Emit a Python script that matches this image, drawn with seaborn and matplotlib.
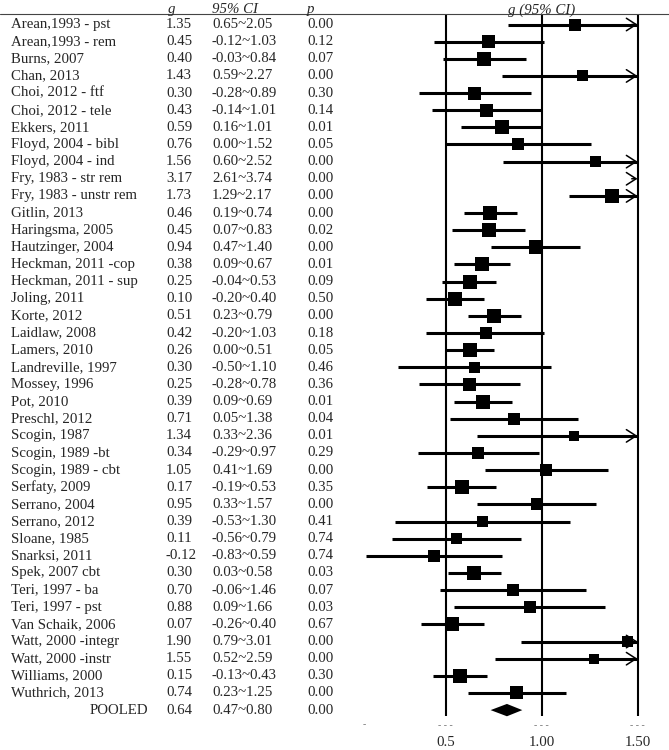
import numpy as np
import pandas as pd
import matplotlib
matplotlib.use("Agg")
import matplotlib.pyplot as plt
import matplotlib.transforms as mtransforms
import seaborn as sns

# datos
studies = [
    "Arean,1993 - pst", "Arean,1993 - rem", "Burns, 2007", "Chan, 2013",
    "Choi, 2012 - ftf", "Choi, 2012 - tele", "Ekkers, 2011", "Floyd, 2004 - bibl",
    "Floyd, 2004 - ind", "Fry, 1983 - str rem", "Fry, 1983 - unstr rem", "Gitlin, 2013",
    "Haringsma, 2005", "Hautzinger, 2004", "Heckman, 2011 -cop", "Heckman, 2011 - sup",
    "Joling, 2011", "Korte, 2012", "Laidlaw, 2008", "Lamers, 2010",
    "Landreville, 1997", "Mossey, 1996", "Pot, 2010", "Preschl, 2012",
    "Scogin, 1987", "Scogin, 1989 -bt", "Scogin, 1989 - cbt", "Serfaty, 2009",
    "Serrano, 2004", "Serrano, 2012", "Sloane, 1985", "Snarksi, 2011",
    "Spek, 2007 cbt", "Teri, 1997 - ba", "Teri, 1997 - pst", "Van Schaik, 2006",
    "Watt, 2000 -integr", "Watt, 2000 -instr", "Williams, 2000", "Wuthrich, 2013",
]
g = [1.35, 0.45, 0.40, 1.43, 0.30, 0.43, 0.59, 0.76, 1.56, 3.17,
     1.73, 0.46, 0.45, 0.94, 0.38, 0.25, 0.10, 0.51, 0.42, 0.26,
     0.30, 0.25, 0.39, 0.71, 1.34, 0.34, 1.05, 0.17, 0.95, 0.39,
     0.11, -0.12, 0.30, 0.70, 0.88, 0.07, 1.90, 1.55, 0.15, 0.74]
ci_lo = [0.65, -0.12, -0.03, 0.59, -0.28, -0.14, 0.16, 0.00, 0.60, 2.61,
         1.29, 0.19, 0.07, 0.47, 0.09, -0.04, -0.20, 0.23, -0.20, 0.00,
         -0.50, -0.28, 0.09, 0.05, 0.33, -0.29, 0.41, -0.19, 0.33, -0.53,
         -0.56, -0.83, 0.03, -0.06, 0.09, -0.26, 0.79, 0.52, -0.13, 0.23]
ci_hi = [2.05, 1.03, 0.84, 2.27, 0.89, 1.01, 1.01, 1.52, 2.52, 3.74,
         2.17, 0.74, 0.83, 1.40, 0.67, 0.53, 0.40, 0.79, 1.03, 0.51,
         1.10, 0.78, 0.69, 1.38, 2.36, 0.97, 1.69, 0.53, 1.57, 1.30,
         0.79, 0.59, 0.58, 1.46, 1.66, 0.40, 3.01, 2.59, 0.43, 1.25]
p_val = [0.00, 0.12, 0.07, 0.00, 0.30, 0.14, 0.01, 0.05, 0.00, 0.00,
         0.00, 0.00, 0.02, 0.00, 0.01, 0.09, 0.50, 0.00, 0.18, 0.05,
         0.46, 0.36, 0.01, 0.04, 0.01, 0.29, 0.00, 0.35, 0.00, 0.41,
         0.74, 0.74, 0.03, 0.07, 0.03, 0.67, 0.00, 0.00, 0.30, 0.00]
# lado del cuadrado (peso del estudio), en pixeles
weight_px = [12, 13, 14, 11, 13, 13, 14, 12, 11, 0,
             14, 14, 14, 14, 14, 14, 14, 14, 12, 14,
             11, 13, 14, 12, 10, 12, 12, 14, 12, 11,
             11, 12, 14, 12, 12, 14, 11, 10, 14, 13]
pooled_g, pooled_lo, pooled_hi, pooled_p = 0.64, 0.47, 0.80, 0.00
ref_lines = [0, 1, 2]
tick_labels = ["0.5", "1.00", "1.50"]

df = pd.DataFrame({"study": studies, "g": g, "lo": ci_lo, "hi": ci_hi,
                   "p": p_val, "w": weight_px})
df["row"] = np.arange(len(df))
pooled_row = len(df)

sns.set_style("white")
plt.rcParams["font.family"] = ["Liberation Serif", "DejaVu Serif"]
FS = 10.7

fig = plt.figure(figsize=(6.69, 7.5), dpi=100)
ax = fig.add_axes([0, 0, 1, 1])
ax.set_xlim(-445.5 / 96, (669 - 445.5) / 96)
ax.set_ylim((750 - 24.5) / 17.14, -24.5 / 17.14)
ax.axis("off")

xmax = 2.0
# lineas de referencia
ax.vlines(ref_lines, -0.61, 40.34, color="black", lw=1.5)

# intervalos de confianza
vis = df[df["lo"] < xmax]
ax.hlines(vis["row"], vis["lo"], vis["hi"].clip(upper=xmax), color="black", lw=2.2)
for _, r in df[df["hi"] > xmax].iterrows():
    ax.annotate("", xy=(xmax, r["row"]), xytext=(xmax - 0.06, r["row"]),
                arrowprops=dict(arrowstyle="->,head_length=0.7,head_width=0.45",
                                lw=1.1, color="black", shrinkA=0, shrinkB=0))

# cuadrados
sns.scatterplot(x=df["g"], y=df["row"], s=(df["w"] * 0.72) ** 2, marker="s",
                color="black", linewidth=0, ax=ax, legend=False, zorder=3)

# diamante combinado
ax.fill([pooled_lo, pooled_g, pooled_hi, pooled_g],
        [pooled_row, pooled_row - 0.36, pooled_row, pooled_row + 0.36],
        color="black", lw=0)

# tabla de texto
tr = mtransforms.blended_transform_factory(fig.transFigure, ax.transData)
cx = {"name": 11 / 669, "g": 166 / 669, "ci": 212 / 669, "p": 307 / 669}
hy = -0.85
ax.text(168 / 669, hy, "g", transform=tr, fontsize=FS, style="italic", va="center")
ax.text(cx["ci"], hy, "95% CI", transform=tr, fontsize=FS, style="italic", va="center")
ax.text(cx["p"], hy, "p", transform=tr, fontsize=FS, style="italic", va="center")
ax.text(1.0, hy, "g (95% CI)", fontsize=FS, style="italic", va="center", ha="center")
ax.axhline(-0.61, color="#444444", lw=0.8)

for _, r in df.iterrows():
    y = r["row"]
    ax.text(cx["name"], y, r["study"], transform=tr, fontsize=FS, va="center")
    ax.text(cx["g"], y, f"{r['g']:.2f}", transform=tr, fontsize=FS, va="center")
    ax.text(cx["ci"], y, f"{r['lo']:.2f}~{r['hi']:.2f}", transform=tr, fontsize=FS, va="center")
    ax.text(cx["p"], y, f"{r['p']:.2f}", transform=tr, fontsize=FS, va="center")

ax.text(148 / 669, pooled_row, "POOLED", transform=tr, fontsize=FS, va="center", ha="right")
ax.text(cx["g"], pooled_row, f"{pooled_g:.2f}", transform=tr, fontsize=FS, va="center")
ax.text(cx["ci"], pooled_row, f"{pooled_lo:.2f}~{pooled_hi:.2f}", transform=tr, fontsize=FS, va="center")
ax.text(cx["p"], pooled_row, f"{pooled_p:.2f}", transform=tr, fontsize=FS, va="center")

# restos de etiquetas del eje y etiquetas inferiores
ax.text(-0.85, 40.87, "-", fontsize=7, color="#777777", ha="center", va="center")
for x in ref_lines:
    ax.text(x, 40.87, "- - -", fontsize=7, color="#777777", ha="center", va="center")
for x, lab in zip(ref_lines, tick_labels):
    ax.text(x, 41.87, lab, fontsize=FS, ha="center", va="center")

fig.savefig("out.png", dpi=100)
